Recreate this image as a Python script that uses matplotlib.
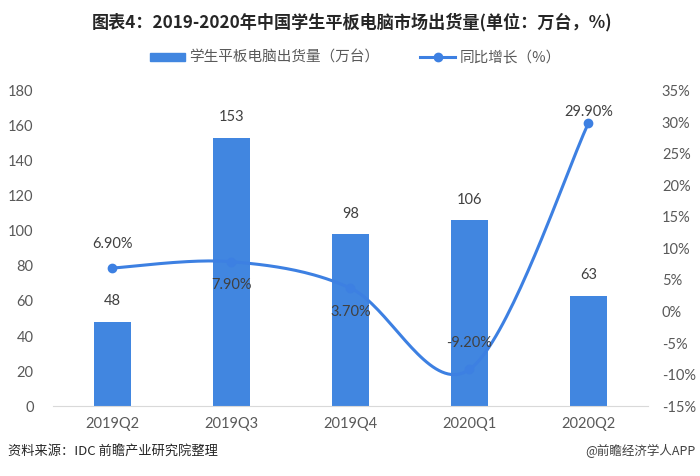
import numpy as np
import matplotlib
matplotlib.use('Agg')
import matplotlib.pyplot as plt
from matplotlib.lines import Line2D
from matplotlib.patches import Patch

plt.rcParams['font.family'] = ['Noto Sans CJK SC', 'DejaVu Sans']

quarters = ['2019Q2', '2019Q3', '2019Q4', '2020Q1', '2020Q2']
shipments = [48, 153, 98, 106, 63]          # 万台
growth = [6.9, 7.9, 3.7, -9.2, 29.9]        # %
growth_labels = ['6.90%', '7.90%', '3.70%', '-9.20%', '29.90%']

BAR = '#4186E0'
LINE = '#3D80E2'
GRAY = '#595959'
NUM_FONT = ['Lato', 'DejaVu Sans']


def smooth(xs, ys, n=40):
    # excel-like smoothed line: bezier segments through the points
    xs = np.asarray(xs, float); ys = np.asarray(ys, float)
    px = np.concatenate([[xs[0]], xs, [xs[-1]]])
    py = np.concatenate([[ys[0]], ys, [ys[-1]]])
    ox, oy = [], []
    t = np.linspace(0, 1, n)
    for i in range(1, len(px) - 2):
        p0 = np.array([px[i], py[i]]); p3 = np.array([px[i + 1], py[i + 1]])
        c1 = p0 + (np.array([px[i + 1], py[i + 1]]) - np.array([px[i - 1], py[i - 1]])) / 6
        c2 = p3 - (np.array([px[i + 2], py[i + 2]]) - np.array([px[i], py[i]])) / 6
        b = ((1 - t) ** 3)[:, None] * p0 + (3 * (1 - t) ** 2 * t)[:, None] * c1 \
            + (3 * (1 - t) * t ** 2)[:, None] * c2 + (t ** 3)[:, None] * p3
        ox.extend(b[:, 0]); oy.extend(b[:, 1])
    return np.array(ox), np.array(oy)


fig = plt.figure(figsize=(7, 4.76), dpi=100)
ax = fig.add_axes([0.0757, 0.147, 0.85, 0.662])
ax2 = ax.twinx()

x = np.arange(len(quarters))
ax.bar(x, shipments, width=0.31, color=BAR, zorder=2)
for xi, v in zip(x, shipments):
    ax.annotate(str(v), (xi, v), xytext=(0, 10), textcoords='offset points',
                ha='center', va='bottom', fontsize=10.5, color='#404040', family=NUM_FONT)

sx, sy = smooth(x, growth)
ax2.plot(sx, sy, color=LINE, lw=2.2, zorder=3)
ax2.plot(x, growth, 'o', color=LINE, ms=6, zorder=4)
offsets = [(0, 12), (0, -12), (0, -12), (0, 14), (0, 3)]
for xi, v, lab, off in zip(x, growth, growth_labels, offsets):
    ax2.annotate(lab, (xi, v), xytext=off, textcoords='offset points',
                 ha='center', va='bottom' if off[1] > 0 else 'top',
                 fontsize=10.5, color='#404040', family=NUM_FONT, zorder=5)

ax.set_xlim(-0.5, len(quarters) - 0.5)
ax.set_ylim(0, 180)
ax.set_yticks(range(0, 181, 20))
ax2.set_ylim(-15, 35)
ax2.set_yticks(range(-15, 36, 5))
ax2.set_yticklabels([f'{v}%' for v in range(-15, 36, 5)])
ax.set_xticks(x)
ax.set_xticklabels(quarters)

for a in (ax, ax2):
    for s in a.spines.values():
        s.set_visible(False)
    a.tick_params(length=0, colors=GRAY, labelsize=10.5)
    for lbl in a.get_yticklabels():
        lbl.set_family(NUM_FONT)
ax.spines['bottom'].set_visible(True)
ax.spines['bottom'].set_color('#D9D9D9')
ax.tick_params(axis='y', pad=14)
ax2.tick_params(axis='y', pad=10)
ax.tick_params(axis='x', pad=8)
for lbl in ax.get_xticklabels():
    lbl.set_family(NUM_FONT)

fig.text(0.503, 0.953, '图表4：2019-2020年中国学生平板电脑市场出货量(单位：万台，%)',
         ha='center', va='center', fontsize=12.3, fontweight='bold', color='#262626')

handles = [Patch(color=BAR), Line2D([], [], color=LINE, lw=2.2, marker='o', ms=6)]
fig.legend(handles, ['学生平板电脑出货量（万台）', '同比增长（%）'], loc='center',
           bbox_to_anchor=(0.508, 0.878), ncol=2, frameon=False, fontsize=10.5,
           labelcolor=GRAY, handlelength=2.4, handleheight=0.5, columnspacing=2.8,
           handletextpad=0.3)

fig.text(0.012, 0.052, '资料来源：IDC 前瞻产业研究院整理', ha='left', va='center',
         fontsize=9.5, color='#262626')
fig.text(0.993, 0.052, '@前瞻经济学人APP', ha='right', va='center',
         fontsize=9, color='#404040')

fig.savefig('out.png', dpi=100)
